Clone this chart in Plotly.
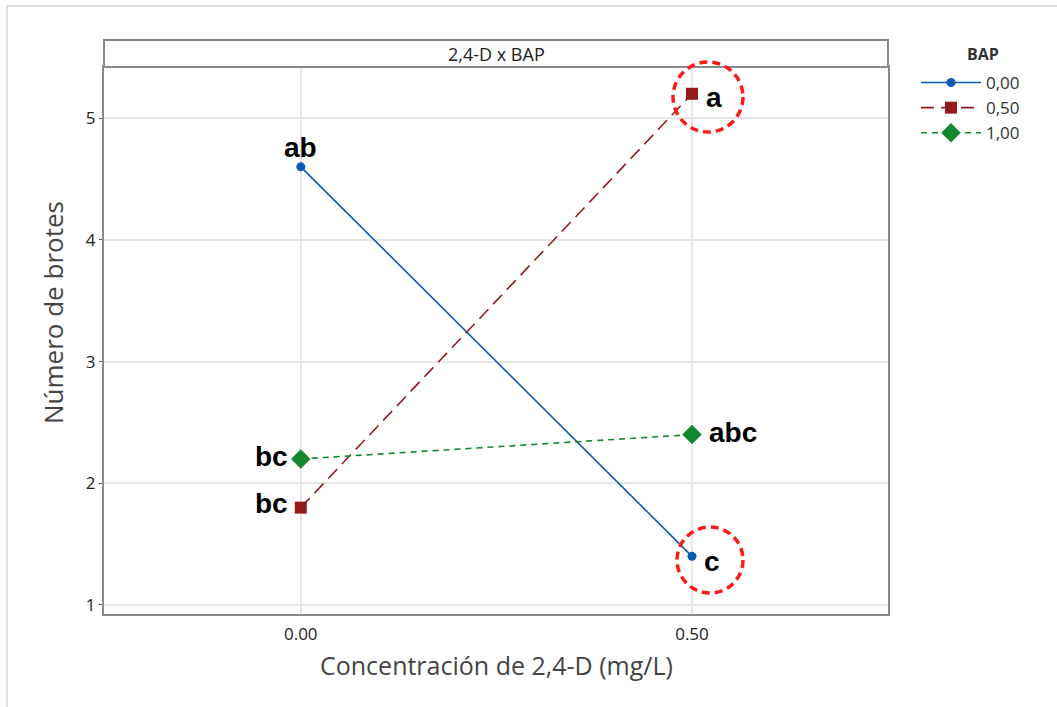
import plotly.graph_objects as go

# ---- data ----
x_conc = [0.0, 0.5]
x_tick_labels = ["0.00", "0.50"]
series_names = ["0,00", "0,50", "1,00"]
y_bap_000 = [4.6, 1.4]
y_bap_050 = [1.8, 5.2]
y_bap_100 = [2.2, 2.4]
letters_000 = ["ab", "c"]
letters_050 = ["bc", "a"]
letters_100 = ["bc", "abc"]
y_ticks = [1, 2, 3, 4, 5]

W, H = 1057, 707
L, R, T, B = 104, 888, 67, 614  # plot area in pixels

def px_x(p):
    return (p - L) / (R - L)

def px_y(p):
    return (B - p) / (B - T)

fig = go.Figure()

styles = [
    dict(color="#0b5cb0", dash="solid", symbol="circle", size=9),
    dict(color="#951b1b", dash="13px,7px", symbol="square", size=12),
    dict(color="#12882c", dash="6px,5px", symbol="diamond", size=15),
]
ys = [y_bap_000, y_bap_050, y_bap_100]
for name, y, st in zip(series_names, ys, styles):
    fig.add_trace(go.Scatter(
        x=x_conc, y=y, name=name, mode="lines+markers",
        line=dict(color=st["color"], width=1.6, dash=st["dash"]),
        marker=dict(color=st["color"], symbol=st["symbol"], size=st["size"],
                    line=dict(width=0)),
    ))

lab_font = dict(family="Liberation Sans, Arial", size=28, color="black")
ann = []
ann.append(dict(x=x_conc[0], y=y_bap_000[0], text="<b>%s</b>" % letters_000[0],
                xanchor="center", yanchor="bottom", yshift=2, showarrow=False, font=lab_font))
ann.append(dict(x=x_conc[1], y=y_bap_000[1], text="<b>%s</b>" % letters_000[1],
                xanchor="left", yanchor="middle", xshift=10, yshift=-5, showarrow=False, font=lab_font))
ann.append(dict(x=x_conc[0], y=y_bap_050[0], text="<b>%s</b>" % letters_050[0],
                xanchor="right", yanchor="middle", xshift=-11, yshift=4, showarrow=False, font=lab_font))
ann.append(dict(x=x_conc[1], y=y_bap_050[1], text="<b>%s</b>" % letters_050[1],
                xanchor="left", yanchor="middle", xshift=12, yshift=-4, showarrow=False, font=lab_font))
ann.append(dict(x=x_conc[0], y=y_bap_100[0], text="<b>%s</b>" % letters_100[0],
                xanchor="right", yanchor="middle", xshift=-11, yshift=2, showarrow=False, font=lab_font))
ann.append(dict(x=x_conc[1], y=y_bap_100[1], text="<b>%s</b>" % letters_100[1],
                xanchor="left", yanchor="middle", xshift=15, yshift=2, showarrow=False, font=lab_font))
# strip title
ann.append(dict(x=0.5, y=px_y(53.5), xref="paper", yref="paper", text="2,4-D x BAP",
                showarrow=False, xanchor="center", yanchor="middle",
                font=dict(family="Open Sans", size=18, color="#222")))
# axis titles
ann.append(dict(x=px_x(496), y=px_y(665), xref="paper", yref="paper",
                text="Concentración de 2,4-D (mg/L)", showarrow=False,
                xanchor="center", yanchor="middle",
                font=dict(family="Open Sans", size=25, color="#444")))
ann.append(dict(x=px_x(53), y=px_y(313), xref="paper", yref="paper",
                text="Número de brotes", showarrow=False, textangle=-90,
                xanchor="center", yanchor="middle",
                font=dict(family="Open Sans", size=26, color="#444")))
# legend title
ann.append(dict(x=px_x(1001), y=px_y(54), xref="paper", yref="paper",
                text="<b>BAP</b>", showarrow=False, xanchor="right", yanchor="middle",
                font=dict(family="Open Sans", size=16, color="#333")))

shapes = []
shapes.append(dict(type="rect", xref="paper", yref="paper",
                   x0=px_x(7), x1=px_x(1062), y0=px_y(712), y1=px_y(6),
                   line=dict(color="#e0e0e0", width=2), layer="below"))
shapes.append(dict(type="rect", xref="paper", yref="paper",
                   x0=0, x1=1, y0=1, y1=px_y(40),
                   line=dict(color="#8a8a8a", width=2), fillcolor="white"))
for cx, cy, r in [(708, 97, 35), (710, 560, 33)]:
    shapes.append(dict(type="circle", xref="paper", yref="paper",
                       x0=px_x(cx - r), x1=px_x(cx + r),
                       y0=px_y(cy + r), y1=px_y(cy - r),
                       line=dict(color="#ff1a1a", width=3.5, dash="8px,5px")))

fig.update_layout(
    width=W, height=H,
    margin=dict(l=L, r=W - R, t=T, b=H - B, autoexpand=False),
    paper_bgcolor="white", plot_bgcolor="white",
    font=dict(family="Open Sans", color="#333"),
    showlegend=True,
    legend=dict(x=px_x(916), y=px_y(65), xanchor="left", yanchor="top",
                font=dict(size=17, color="#333"), itemwidth=60,
                tracegroupgap=0, bgcolor="rgba(0,0,0,0)"),
    annotations=ann, shapes=shapes,
    xaxis=dict(range=[-0.2515, 0.7505], tickvals=x_conc, ticktext=x_tick_labels,
               showgrid=True, gridcolor="#e6e6e6", gridwidth=1.5, zeroline=False,
               showline=True, linecolor="#8a8a8a", linewidth=2, mirror=True,
               ticks="outside", ticklen=4, tickcolor="rgba(0,0,0,0)",
               tickfont=dict(size=17, color="#222")),
    yaxis=dict(range=[0.926, 5.42], tickvals=y_ticks,
               showgrid=True, gridcolor="#e6e6e6", gridwidth=1.5, zeroline=False,
               showline=True, linecolor="#8a8a8a", linewidth=2, mirror=True,
               ticks="outside", ticklen=3, tickcolor="#555",
               tickfont=dict(size=17, color="#222")),
)

fig.write_html("out.html", config={"displayModeBar": False},
               post_script="document.body.style.margin='0';")
